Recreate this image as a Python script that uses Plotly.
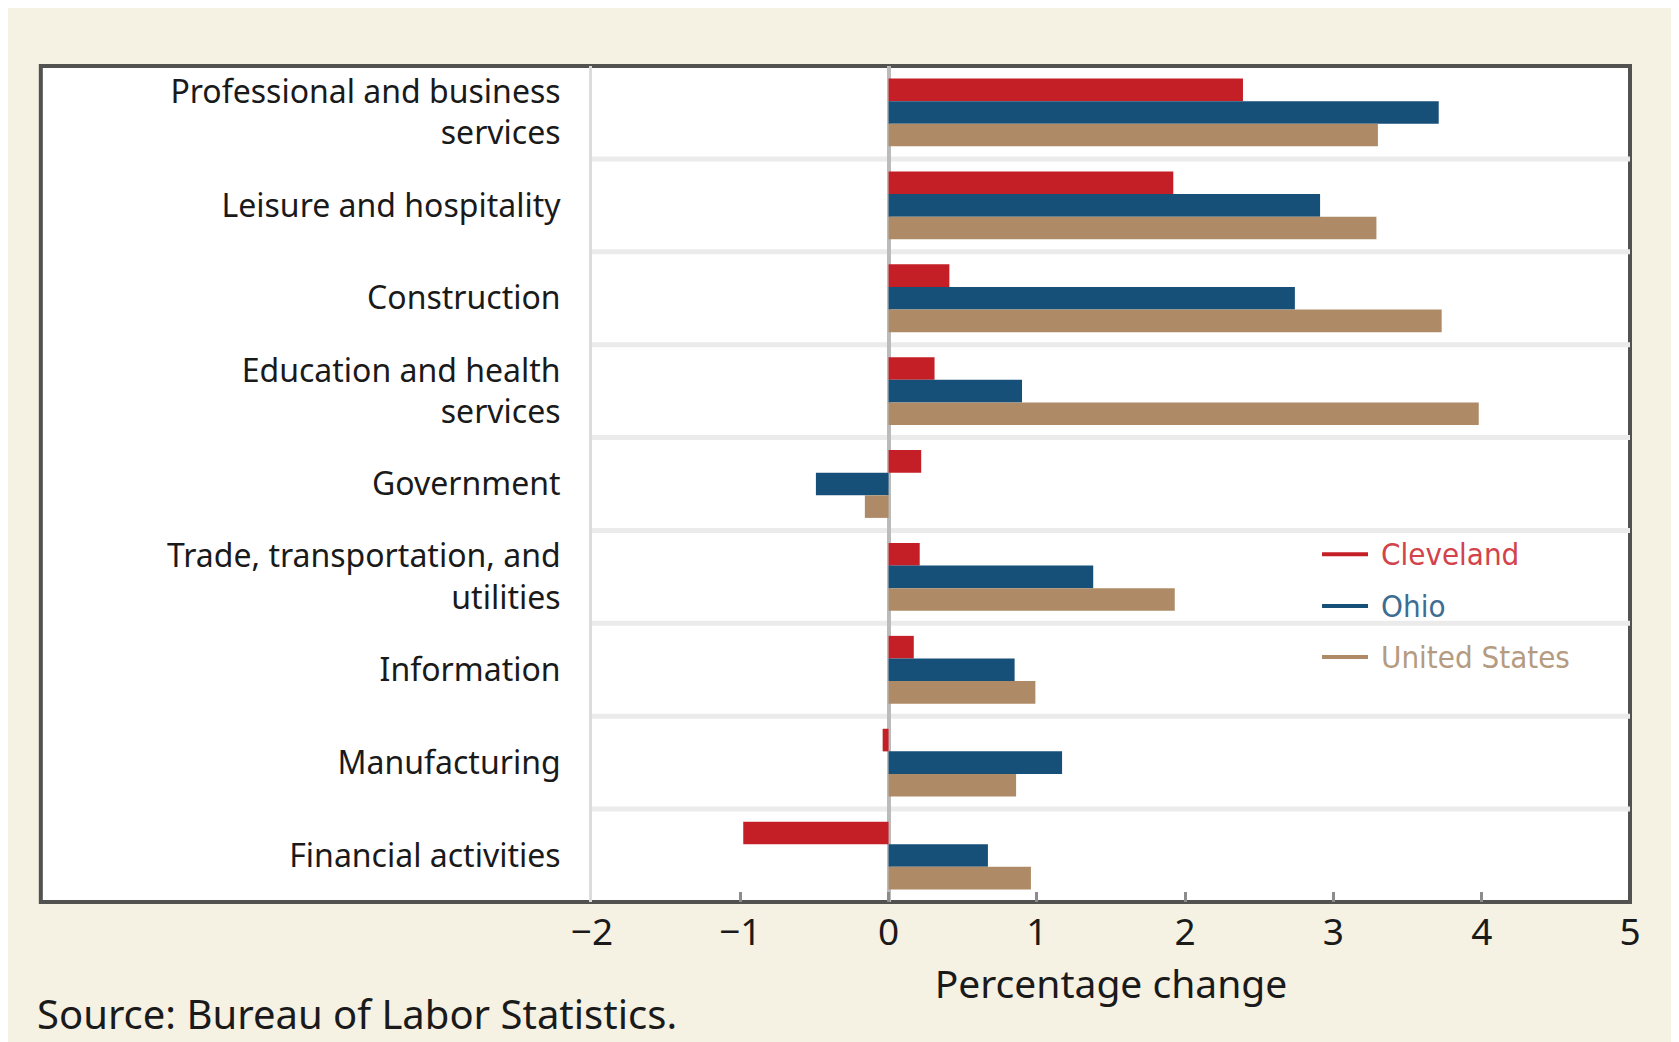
import plotly.graph_objects as go

# industries, top to bottom
categories = [
    "Professional and business<br>services",
    "Leisure and hospitality",
    "Construction",
    "Education and health<br>services",
    "Government",
    "Trade, transportation, and<br>utilities",
    "Information",
    "Manufacturing",
    "Financial activities",
]

cleveland = [2.39, 1.92, 0.41, 0.31, 0.22, 0.21, 0.17, -0.04, -0.98]
ohio = [3.71, 2.91, 2.74, 0.90, -0.49, 1.38, 0.85, 1.17, 0.67]
united_states = [3.30, 3.29, 3.73, 3.98, -0.16, 1.93, 0.99, 0.86, 0.96]

x_ticks = [-2, -1, 0, 1, 2, 3, 4, 5]

series_names = ["Cleveland", "Ohio", "United States"]
bar_colors = ["#C41F26", "#164F78", "#AE8B66"]
text_colors = ["#D2434B", "#3D6D92", "#B59B80"]

fig = go.Figure()

for name, vals, color in zip(series_names, [cleveland, ohio, united_states], bar_colors):
    fig.add_trace(go.Bar(
        y=categories,
        x=vals,
        orientation="h",
        name=name,
        marker=dict(color=color, line=dict(width=0)),
        showlegend=False,
    ))

# white panel with dark frame (covers label area too)
shapes = [dict(
    type="rect", xref="paper", yref="paper",
    x0=-0.531, x1=1.0, y0=0, y1=1,
    fillcolor="white", line=dict(color="#525250", width=4),
    layer="below",
)]
# light separators between industries
for k in range(len(categories) - 1):
    shapes.append(dict(
        type="line", xref="paper", yref="y",
        x0=0, x1=1, y0=k + 0.5, y1=k + 0.5,
        line=dict(color="#EBEBEB", width=5),
        layer="below",
    ))

annotations = [dict(
    text="Source: Bureau of Labor Statistics.",
    xref="paper", yref="paper",
    x=-0.5366, y=-0.1333, xanchor="left", yanchor="middle",
    showarrow=False,
    font=dict(size=40, color="#1a1a1a"),
)]

# legend: short line keys with coloured labels
legend_y = [0.416, 0.354, 0.293]
for name, color, tcolor, ly in zip(series_names, bar_colors, text_colors, legend_y):
    shapes.append(dict(
        type="line", xref="paper", yref="paper",
        x0=0.7033, x1=0.7476, y0=ly, y1=ly,
        line=dict(color=color, width=4),
    ))
    annotations.append(dict(
        text=name, xref="paper", yref="paper",
        x=0.758, y=ly, xanchor="left", yanchor="middle",
        showarrow=False,
        font=dict(family="Liberation Sans Narrow, DejaVu Sans Condensed, Roboto Condensed, sans-serif",
                  size=31, color=tcolor),
    ))

fig.update_layout(
    width=1679,
    height=1042,
    paper_bgcolor="#F5F1E3",
    plot_bgcolor="rgba(0,0,0,0)",
    margin=dict(l=584, r=57, t=58, b=148),
    barmode="group",
    bargap=0.27,
    bargroupgap=0,
    showlegend=False,
    shapes=shapes,
    annotations=annotations,
    font=dict(family="Noto Sans, sans-serif", color="#1a1a1a"),
)

fig.update_xaxes(
    range=[-2, 5],
    tickvals=x_ticks,
    ticks="inside",
    ticklen=10,
    tickwidth=3,
    tickcolor="#8C8C8C",
    showgrid=False,
    zeroline=True,
    zerolinecolor="#BBBBBB",
    zerolinewidth=4,
    showline=False,
    ticklabelstandoff=5,
    tickfont=dict(size=37, color="#1a1a1a"),
    title=dict(text="Percentage change", font=dict(size=39, color="#1a1a1a"), standoff=0),
)

fig.update_yaxes(
    autorange="reversed",
    showgrid=False,
    showline=True,
    linecolor="#DCDCDC",
    linewidth=3,
    ticks="",
    ticklabelstandoff=22,
    tickfont=dict(size=32, color="#1a1a1a"),
)

fig.write_html("out.html")
